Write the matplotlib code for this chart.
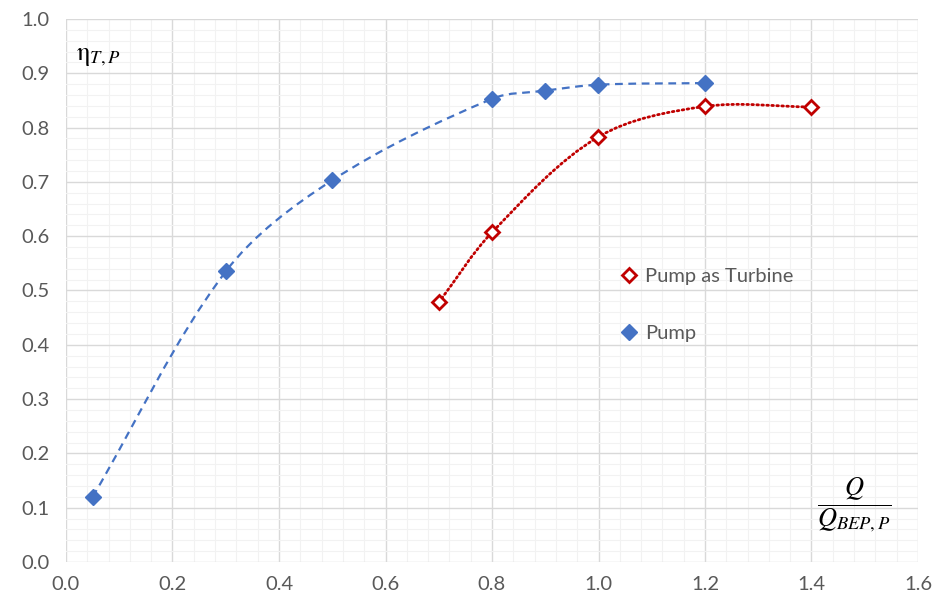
import numpy as np
import matplotlib
matplotlib.use("Agg")
import matplotlib.pyplot as plt
from matplotlib.path import Path
from matplotlib.patches import PathPatch
from matplotlib.ticker import MultipleLocator

plt.rcParams['font.family'] = ['Lato', 'DejaVu Sans']
plt.rcParams['mathtext.fontset'] = 'stix'

# data
pump_q = [0.05, 0.3, 0.5, 0.8, 0.9, 1.0, 1.2]
pump_eta = [0.120, 0.535, 0.703, 0.853, 0.868, 0.879, 0.882]
pat_q = [0.7, 0.8, 1.0, 1.2, 1.4]
pat_eta = [0.478, 0.607, 0.783, 0.839, 0.838]

blue = '#4472C4'
red = '#C00000'


def smooth_path(xs, ys):
    # smoothed line like Excel: cubic bezier, tangents scaled by chord length
    p = np.column_stack([xs, ys])
    n = len(p)
    d = np.hypot(*np.diff(p, axis=0).T)
    tang = []
    for i in range(n):
        a = p[i - 1] if i > 0 else p[i]
        b = p[i + 1] if i + 1 < n else p[i]
        da = d[i - 1] if i > 0 else 0
        db = d[i] if i + 1 < n else 0
        tang.append((b - a) / (da + db))
    verts = [p[0]]
    codes = [Path.MOVETO]
    for i in range(n - 1):
        c1 = p[i] + tang[i] * d[i] / 3
        c2 = p[i + 1] - tang[i + 1] * d[i] / 3
        verts += [c1, c2, p[i + 1]]
        codes += [Path.CURVE4] * 3
    return Path(verts, codes)


fig = plt.figure(figsize=(9.37, 6.08), dpi=100)
ax = fig.add_axes([66 / 937, 46 / 608, 852 / 937, 543 / 608])

ax.add_patch(PathPatch(smooth_path(pump_q, pump_eta), fill=False, color=blue,
                       lw=1.6, linestyle=(0, (3.5, 2.5)), zorder=3))
ax.add_patch(PathPatch(smooth_path(pat_q, pat_eta), fill=False, color=red,
                       lw=2, linestyle=(0, (0.6, 1.2)), capstyle='round', zorder=3))

ax.plot(pat_q, pat_eta, linestyle='none', marker='D', markersize=7.5,
        markerfacecolor='white', markeredgecolor=red, markeredgewidth=2,
        label='Pump as Turbine', zorder=4)
ax.plot(pump_q, pump_eta, linestyle='none', marker='D', markersize=8.5,
        color=blue, label='Pump', zorder=4)

ax.set_xlim(0, 1.6)
ax.set_ylim(0, 1.0)
ax.xaxis.set_major_locator(MultipleLocator(0.2))
ax.xaxis.set_minor_locator(MultipleLocator(0.04))
ax.yaxis.set_major_locator(MultipleLocator(0.1))
ax.yaxis.set_minor_locator(MultipleLocator(0.02))
ax.xaxis.set_major_formatter(lambda v, p: f'{v:.1f}')
ax.yaxis.set_major_formatter(lambda v, p: f'{v:.1f}')
ax.grid(which='major', color='#d9d9d9', lw=1)
ax.grid(which='minor', color='#f2f2f2', lw=0.8)
ax.set_axisbelow(True)
for s in ax.spines.values():
    s.set_visible(False)
ax.tick_params(which='both', length=0, labelsize=14.5, labelcolor='#595959')
ax.tick_params(axis='x', pad=10)
ax.tick_params(axis='y', pad=12)

ax.legend(loc='upper left', bbox_to_anchor=(0.63, 0.575), frameon=False,
          fontsize=14.5, labelcolor='#595959', labelspacing=2.0,
          handlelength=0.8, handletextpad=0.4)

ax.text(0.012, 0.955, r'$\mathrm{\eta}_{T,P}$', transform=ax.transAxes,
        fontsize=19, va='top', ha='left')
ax.text(0.925, 0.105, r'$\dfrac{Q}{Q_{BEP,P}}$', transform=ax.transAxes,
        fontsize=19, va='center', ha='center')

fig.savefig('out.png', dpi=100)
